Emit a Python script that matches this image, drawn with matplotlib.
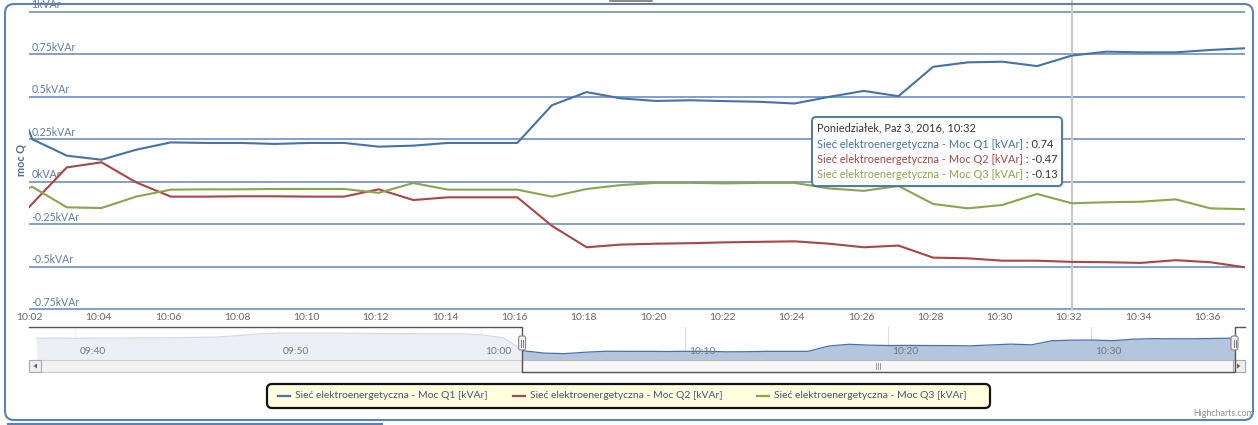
import matplotlib
matplotlib.use("Agg")
import matplotlib.pyplot as plt
import matplotlib.dates as mdates
from matplotlib.patches import FancyBboxPatch, Rectangle, Polygon
import pandas as pd

plt.rcParams["font.family"] = ["Lato", "DejaVu Sans"]

W, H = 1258, 425

# ---- data (kVAr) ----
times = pd.date_range("2016-10-03 10:01:05", periods=37, freq="min")
q1 = [0.80, 0.25, 0.153, 0.129, 0.188, 0.231, 0.228, 0.228, 0.222, 0.228,
      0.228, 0.206, 0.212, 0.228, 0.228, 0.228, 0.45, 0.527, 0.49, 0.475,
      0.479, 0.474, 0.47, 0.46, 0.499, 0.534, 0.503, 0.676, 0.702, 0.706,
      0.68, 0.742, 0.765, 0.761, 0.761, 0.775, 0.785]
q2 = [-0.35, -0.13, 0.084, 0.114, -0.004, -0.088, -0.088, -0.086, -0.086, -0.088,
      -0.088, -0.045, -0.108, -0.092, -0.092, -0.092, -0.26, -0.386, -0.37, -0.365,
      -0.362, -0.357, -0.354, -0.351, -0.365, -0.386, -0.376, -0.447, -0.451, -0.465,
      -0.465, -0.472, -0.474, -0.478, -0.462, -0.474, -0.504]
q3 = [-0.10, -0.03, -0.151, -0.155, -0.088, -0.047, -0.045, -0.045, -0.043, -0.043,
      -0.043, -0.066, -0.008, -0.047, -0.047, -0.047, -0.088, -0.043, -0.02, -0.007,
      -0.007, -0.01, -0.007, -0.007, -0.04, -0.054, -0.025, -0.131, -0.157, -0.137,
      -0.072, -0.127, -0.121, -0.118, -0.104, -0.157, -0.162]

# Q1 history before the zoomed range (navigator only)
early_times = pd.date_range("2016-10-03 09:38:05", periods=23, freq="min")
q1_early = [0.78, 0.79, 0.78, 0.79, 0.79, 0.80, 0.80, 0.81, 0.82, 0.84,
            0.90, 0.97, 1.00, 1.00, 1.00, 1.00, 0.99, 0.98, 0.98, 0.97,
            0.97, 0.97, 0.92]

y_ticks = [-0.75, -0.5, -0.25, 0, 0.25, 0.5, 0.75, 1]
series_names = ["Sieć elektroenergetyczna - Moc Q1 [kVAr]",
                "Sieć elektroenergetyczna - Moc Q2 [kVAr]",
                "Sieć elektroenergetyczna - Moc Q3 [kVAr]"]
colors = ["#4572A7", "#AA4643", "#89A54E"]
nav_labels = ["09:40", "09:50", "10:00", "10:10", "10:20", "10:30"]
hover_idx = 31  # 10:32
tooltip_title = "Poniedziałek, Paź 3, 2016, 10:32"

view_start = pd.Timestamp("2016-10-03 10:02:00")
view_end = times[-1]
nav_start = pd.Timestamp("2016-10-03 09:37:44")
nav_end = pd.Timestamp("2016-10-03 10:37:36")

GRID = "#5F86C2"
TEXT = "#3E576F"


def box(x0, y0, x1, y1):
    return [x0 / W, 1 - y1 / H, (x1 - x0) / W, (y1 - y0) / H]


fig = plt.figure(figsize=(W / 100, H / 100), dpi=100)
fig.patch.set_facecolor("white")

PL, PR = 29.3, 1245

# ---- main chart ----
ax = fig.add_axes(box(PL, 0, PR, 311))
ax.set_xlim(view_start, view_end)
ax.set_ylim(-0.761, 1.069)
for s in ax.spines.values():
    s.set_visible(False)
ax.set_yticks(y_ticks)
ax.grid(axis="y", color=GRID, lw=1.1, zorder=1)
ax.tick_params(axis="y", length=0, labelleft=False)
for v in y_ticks:
    ax.annotate(f"{v:g}kVAr", xy=(0, v), xycoords=("axes fraction", "data"),
                xytext=(1.5, 1.0), textcoords="offset points",
                ha="left", va="bottom", fontsize=7.6, color="#5E7BA3")
ax.xaxis.set_major_locator(mdates.MinuteLocator(byminute=range(0, 60, 2)))
ax.xaxis.set_major_formatter(mdates.DateFormatter("%H:%M"))
ax.tick_params(axis="x", length=0, pad=1.5, labelsize=7.5, labelcolor="#666666")

ax.axvline(times[hover_idx], color="#C8C8C8", lw=1.5, zorder=2)
for vals, c in zip([q1, q2, q3], colors):
    ax.plot(times, vals, color=c, lw=1.5, zorder=3)

fig.text(20.5 / W, 1 - 160 / H, "moc Q", rotation=90, ha="center", va="center",
         fontsize=7.8, fontweight="bold", color="#4D6D9A")

# ---- navigator ----
nav = fig.add_axes(box(PL, 327, PR, 360))
nav.set_xlim(nav_start, nav_end)
nav.set_ylim(-0.14, 1.26)
nav.axis("off")
nav_t = list(early_times) + list(times)
nav_v = list(q1_early) + list(q1)
for lab in nav_labels:
    t = pd.Timestamp(f"2016-10-03 {lab}")
    nav.axvline(t, color="#DADADA", lw=0.8, zorder=1)
    nav.annotate(lab, xy=(t, 0), xycoords=("data", "axes fraction"),
                 xytext=(3, 3), textcoords="offset points",
                 fontsize=7.4, color="#777777", ha="left", va="bottom", zorder=5)
nav.fill_between(nav_t, nav_v, -0.14, color="#B4C6DD", lw=0, zorder=2)
nav.plot(nav_t, nav_v, color="#4572A7", lw=0.9, zorder=3)
nav.axvspan(nav_start, view_start, color="white", alpha=0.75, lw=0, zorder=4)
nav.axvspan(view_end, nav_end, color="white", alpha=0.75, lw=0, zorder=4)

# ---- overlay in pixel coordinates ----
ov = fig.add_axes([0, 0, 1, 1])
ov.set_xlim(0, W)
ov.set_ylim(H, 0)
ov.axis("off")

to_px = lambda t: PL + (PR - PL) * (t - nav_start) / (nav_end - nav_start)
hx0, hx1 = to_px(view_start), to_px(view_end)

# scrollbar
ov.add_patch(Rectangle((PL, 360), PR - PL, 12, fc="#F2F2F2", ec="#CCCCCC", lw=0.8))
ov.add_patch(Rectangle((hx0, 360), hx1 - hx0, 12, fc="#F7F7F7", ec="#BBBBBB", lw=0.8))
for bx in (PL, PR - 12):
    ov.add_patch(Rectangle((bx, 360), 12, 12, fc="#EEEEEE", ec="#AAAAAA", lw=0.8))
ov.add_patch(Polygon([(37, 363.5), (37, 368.5), (33.5, 366)], fc="#666666"))
ov.add_patch(Polygon([(PR - 8, 363.5), (PR - 8, 368.5), (PR - 4.5, 366)], fc="#666666"))
mid = (hx0 + hx1) / 2
for dx in (-2, 0, 2):
    ov.plot([mid + dx, mid + dx], [363, 369], color="#888888", lw=0.6)

# navigator outline and handles
ov.plot([PL, hx0, hx0, hx1, hx1, PR], [327, 327, 372, 372, 327, 327],
        color="#555555", lw=1.0)
for hx in (hx0, hx1):
    ov.add_patch(FancyBboxPatch((hx - 3.5, 336), 7, 14,
                                boxstyle="round,pad=0,rounding_size=2",
                                fc="#EFEFEF", ec="#888888", lw=0.8, zorder=5))
    for dx in (-1, 1):
        ov.plot([hx + dx, hx + dx], [339.5, 346.5], color="#666666", lw=0.6, zorder=6)

# tooltip
ov.add_patch(FancyBboxPatch((814, 119), 250, 69, boxstyle="round,pad=0,rounding_size=4",
                            fc="#888888", ec="none", alpha=0.15, zorder=8))
ov.add_patch(FancyBboxPatch((812, 117), 250, 69, boxstyle="round,pad=0,rounding_size=4",
                            fc="white", ec="#4572A7", lw=1.4, alpha=0.95, zorder=9))
ov.text(817, 128, tooltip_title, fontsize=7.9, color="#333333", va="center", zorder=10)
for i, (name, c, vals) in enumerate(zip(series_names, colors, [q1, q2, q3])):
    t = ov.text(817, 144 + 15.3 * i, name, fontsize=7.9, color=c, va="center", zorder=10)
    ov.annotate(f" : {vals[hover_idx]:.2f}", xy=(1, 0.5), xycoords=t,
                va="center", ha="left", fontsize=7.9, color="#333333", zorder=10)

# legend
ov.add_patch(FancyBboxPatch((267, 384), 723, 24, boxstyle="round,pad=0,rounding_size=5",
                            fc="#FFFFE0", ec="#111111", lw=1.6, zorder=8))
for name, c, lx in zip(series_names, colors, [278, 513, 757]):
    ov.plot([lx, lx + 12], [396, 396], color=c, lw=1.6, zorder=9)
    ov.text(lx + 17, 396, name, fontsize=7.5, color=TEXT, va="center", zorder=9)

ov.text(1254, 414, "Highcharts.com", fontsize=6.4, color="#909090", ha="right", va="center")

# outer container frames
ov.add_patch(FancyBboxPatch((5, 4), 1248, 416, boxstyle="round,pad=0,rounding_size=9",
                            fc="none", ec="#5B80B8", lw=1.5))
ov.plot([8, 382], [423.5, 423.5], color="#5B80B8", lw=1.5)
ov.plot([610, 652], [1, 1], color="#777777", lw=1.2)

fig.savefig("out.png", dpi=100, facecolor="white")
